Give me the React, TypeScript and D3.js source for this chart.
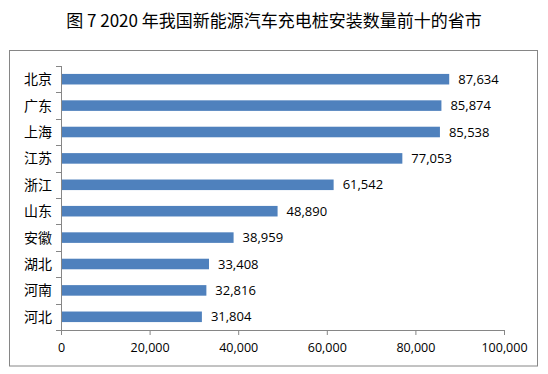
import React, { useEffect, useRef } from "react";
import * as d3 from "d3";

// data
const provinces = ["北京", "广东", "上海", "江苏", "浙江", "山东", "安徽", "湖北", "河南", "河北"];
const chargers = [87634, 85874, 85538, 77053, 61542, 48890, 38959, 33408, 32816, 31804];
const xTicks = [0, 20000, 40000, 60000, 80000, 100000];

const title = "图 7 2020 年我国新能源汽车充电桩安装数量前十的省市";

const App = () => {
    const ref = useRef<SVGSVGElement>(null);
    const width = 548;
    const height = 374;

    useEffect(() => {
        const svg = d3.select(ref.current);
        svg.selectAll("*").remove(); // clear previous drawings

        const margin = { top: 66, right: 44, bottom: 44, left: 61 };
        const numFont = "'Open Sans', 'Liberation Sans', sans-serif";
        const cjkFont = "'Noto Sans CJK SC', sans-serif";
        const axisColor = "#868686";

        // chart area border
        svg.append("rect")
            .attr("x", 9.5)
            .attr("y", 50.5)
            .attr("width", 528)
            .attr("height", 315.5)
            .attr("fill", "#fff")
            .attr("stroke", axisColor)
            .attr("stroke-width", 1);

        // title
        svg.append("text")
            .attr("x", 274)
            .attr("y", 27)
            .attr("text-anchor", "middle")
            .style("font-family", cjkFont)
            .style("font-size", "17px")
            .style("fill", "#000")
            .text(title);

        const x = d3
            .scaleLinear()
            .domain([0, 100000])
            .range([margin.left, width - margin.right]);

        const y = d3
            .scaleBand()
            .domain(provinces)
            .range([margin.top, height - margin.bottom])
            .paddingInner(0.6)
            .paddingOuter(0.3);

        const rows = provinces.map((p, i) => ({ name: p, value: chargers[i] }));

        // bars
        svg.append("g")
            .selectAll("rect")
            .data(rows)
            .join("rect")
            .attr("x", x(0))
            .attr("y", (d) => y(d.name)!)
            .attr("width", (d) => x(d.value) - x(0))
            .attr("height", y.bandwidth())
            .attr("fill", "#4f81bd");

        // value labels
        svg.append("g")
            .selectAll("text")
            .data(rows)
            .join("text")
            .attr("x", (d) => x(d.value) + 9)
            .attr("y", (d) => y(d.name)! + y.bandwidth() / 2)
            .attr("dy", "0.35em")
            .style("font-family", numFont)
            .style("font-size", "13px")
            .style("fill", "#000")
            .text((d) => d3.format(",")(d.value));

        // x axis
        const xAxis = svg.append("g")
            .attr("transform", `translate(0,${height - margin.bottom})`)
            .call(
                d3.axisBottom(x)
                    .tickValues(xTicks)
                    .tickSize(5)
                    .tickSizeOuter(5)
                    .tickPadding(8)
                    .tickFormat((d) => d3.format(",")(d as number))
            );
        xAxis.select(".domain").attr("stroke", axisColor);
        xAxis.selectAll("line").attr("stroke", axisColor);
        xAxis.selectAll("text")
            .style("font-family", numFont)
            .style("font-size", "12.5px")
            .attr("fill", "#000");

        // y axis: line plus category-boundary ticks, labels centred on bars
        const yAxis = svg.append("g");
        const step = y.step();
        const gap = (step * 0.6) / 2;
        const boundaries = provinces.map((p) => y(p)! - gap).concat([y(provinces[provinces.length - 1])! + y.bandwidth() + gap]);

        yAxis.append("line")
            .attr("x1", x(0) + 0.5)
            .attr("x2", x(0) + 0.5)
            .attr("y1", boundaries[0])
            .attr("y2", boundaries[boundaries.length - 1])
            .attr("stroke", axisColor);

        yAxis.selectAll("line.tick")
            .data(boundaries)
            .join("line")
            .attr("class", "tick")
            .attr("x1", x(0) - 5)
            .attr("x2", x(0))
            .attr("y1", (d) => Math.round(d) + 0.5)
            .attr("y2", (d) => Math.round(d) + 0.5)
            .attr("stroke", axisColor);

        yAxis.selectAll("text")
            .data(provinces)
            .join("text")
            .attr("x", 52)
            .attr("y", (d) => y(d)! + y.bandwidth() / 2)
            .attr("dy", "0.36em")
            .attr("text-anchor", "end")
            .style("font-family", cjkFont)
            .style("font-size", "14px")
            .style("fill", "#000")
            .text((d) => d);
    }, []);

    return (
        <svg
            ref={ref}
            width={width}
            height={height}
            style={{ position: "absolute", left: 0, top: 0, background: "#fff" }}
        ></svg>
    );
};

export default App;
